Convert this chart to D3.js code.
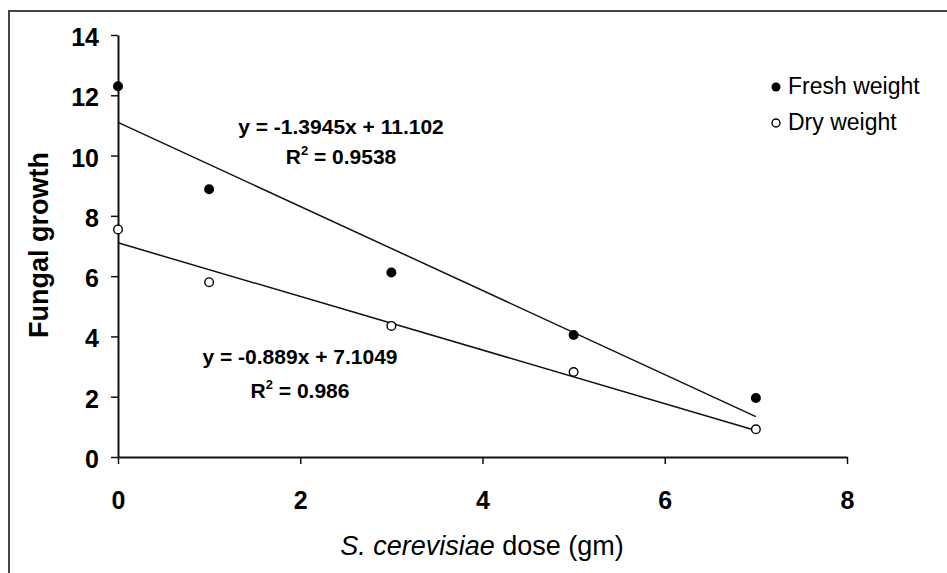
<!DOCTYPE html>
<html>
<head>
<meta charset="utf-8">
<script src="https://cdn.jsdelivr.net/npm/d3@7"></script>
<style>
html,body{margin:0;padding:0;background:#fff;}
svg{display:block;font-family:Arial,"Liberation Sans",sans-serif;}
</style>
</head>
<body>
<svg id="chart" width="947" height="573"></svg>
<script>
const doses = [0, 1, 3, 5, 7];
const freshWeight = [12.3, 8.88, 6.12, 4.05, 1.96];
const dryWeight = [7.55, 5.8, 4.35, 2.82, 0.92];
const xTicks = [0, 2, 4, 6, 8];
const yTicks = [0, 2, 4, 6, 8, 10, 12, 14];
const freshFit = {slope: -1.3945, intercept: 11.102, label: "y = -1.3945x + 11.102", r2: "0.9538"};
const dryFit = {slope: -0.889, intercept: 7.1049, label: "y = -0.889x + 7.1049", r2: "0.986"};
const legendLabels = ["Fresh weight", "Dry weight"];

const svg = d3.select("#chart");
// outer frame
svg.append("rect").attr("x", 9).attr("y", 11).attr("width", 960).attr("height", 600)
  .attr("fill", "none").attr("stroke", "#444").attr("stroke-width", 2);

const x = d3.scaleLinear().domain([0, 8]).range([118, 847]);
const y = d3.scaleLinear().domain([0, 14]).range([457, 35]);

const xAxis = svg.append("g").attr("transform", `translate(0,${y(0)})`)
  .call(d3.axisBottom(x).tickValues(xTicks).tickSize(7).tickSizeOuter(0).tickPadding(27));
const yAxis = svg.append("g").attr("transform", `translate(${x(0)},0)`)
  .call(d3.axisLeft(y).tickValues(yTicks).tickSize(7).tickSizeOuter(0).tickPadding(12));
[xAxis, yAxis].forEach(g => {
  g.select(".domain").attr("stroke", "#111").attr("stroke-width", 2);
  g.selectAll(".tick line").attr("stroke", "#111").attr("stroke-width", 1.5);
  g.selectAll(".tick text").attr("fill", "#000").style("font-size", "25px").style("font-weight", "bold")
   .style("font-family", "Arial, 'Liberation Sans', sans-serif");
});
xAxis.selectAll(".tick text").attr("dy", "0.71em");
yAxis.selectAll(".tick text").attr("dy", "0.42em");

// trend lines
[freshFit, dryFit].forEach(f => {
  svg.append("line")
    .attr("x1", x(0)).attr("y1", y(f.intercept))
    .attr("x2", x(7)).attr("y2", y(f.intercept + f.slope * 7))
    .attr("stroke", "#111").attr("stroke-width", 1.5);
});

// points
svg.selectAll(".fresh").data(doses).enter().append("circle")
  .attr("cx", d => x(d)).attr("cy", (d, i) => y(freshWeight[i])).attr("r", 5)
  .attr("fill", "#000");
svg.selectAll(".dry").data(doses).enter().append("circle")
  .attr("cx", d => x(d)).attr("cy", (d, i) => y(dryWeight[i])).attr("r", 4.3)
  .attr("fill", "#fff").attr("stroke", "#000").attr("stroke-width", 1.4);

// equations
function eq(f, cx, cy, cy2) {
  svg.append("text").attr("x", cx).attr("y", cy).attr("text-anchor", "middle")
    .style("font-size", "21px").style("font-weight", "bold").text(f.label);
  const t = svg.append("text").attr("x", cx).attr("y", cy2).attr("text-anchor", "middle")
    .style("font-size", "21px").style("font-weight", "bold");
  t.append("tspan").text("R");
  t.append("tspan").attr("dy", -9).style("font-size", "13px").text("2");
  t.append("tspan").attr("dy", 9).text(" = " + f.r2);
}
eq(freshFit, 341, 134, 164);
eq(dryFit, 300, 364, 398);

// legend
const leg = svg.append("g");
leg.append("circle").attr("cx", 776).attr("cy", 87).attr("r", 4.5).attr("fill", "#000");
leg.append("circle").attr("cx", 776).attr("cy", 123).attr("r", 4).attr("fill", "#fff").attr("stroke", "#000").attr("stroke-width", 1.4);
leg.append("text").attr("x", 788).attr("y", 94).style("font-size", "23px").text(legendLabels[0]);
leg.append("text").attr("x", 788).attr("y", 130).style("font-size", "23px").text(legendLabels[1]);

// axis titles
const xt = svg.append("text").attr("x", 482).attr("y", 555).attr("text-anchor", "middle")
  .style("font-size", "27px");
xt.append("tspan").style("font-style", "italic").text("S. cerevisiae");
xt.append("tspan").text(" dose (gm)");
svg.append("text").attr("transform", "translate(48,245) rotate(-90)").attr("text-anchor", "middle")
  .style("font-size", "27px").style("font-weight", "bold").text("Fungal growth");
</script>
</body>
</html>
